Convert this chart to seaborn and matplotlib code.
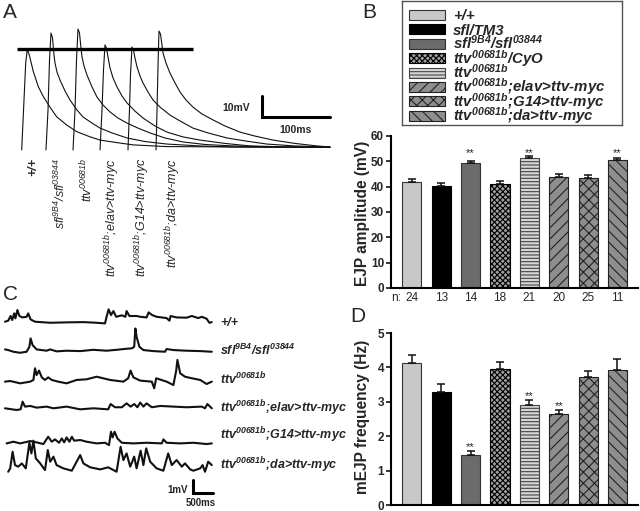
import numpy as np
import pandas as pd
import matplotlib
matplotlib.use("Agg")
import matplotlib.pyplot as plt
import matplotlib.transforms as mtransforms
from matplotlib.patches import Rectangle
import seaborn as sns

sns.set_style("white")
plt.rcParams.update({
    "font.family": ["Liberation Sans", "DejaVu Sans"],
    "mathtext.fontset": "custom",
    "mathtext.rm": "Liberation Sans:italic:bold",
    "mathtext.it": "Liberation Sans:italic:bold",
    "mathtext.bf": "Liberation Sans:italic:bold",
    "mathtext.sf": "Liberation Sans:italic",
    "hatch.linewidth": 0.8,
})

# ---------------- data ----------------
genotype_labels = ["+/+", "sfl/TM3", "sfl$^{9B4}$/sfl$^{03844}$", "ttv$^{00681b}$/CyO",
                   "ttv$^{00681b}$", "ttv$^{00681b}$;elav>ttv-myc",
                   "ttv$^{00681b}$;G14>ttv-myc", "ttv$^{00681b}$;da>ttv-myc"]
ejp_amp = [42.0, 40.4, 49.3, 41.0, 51.3, 44.0, 43.6, 50.6]
ejp_sem = [0.9, 1.0, 0.9, 1.1, 0.8, 0.9, 1.1, 0.9]
ejp_n = [24, 13, 14, 18, 21, 20, 25, 11]
ejp_sig = ["", "", "**", "", "**", "", "", "**"]
mejp_freq = [4.14, 3.29, 1.45, 3.95, 2.90, 2.65, 3.72, 3.93]
mejp_sem = [0.21, 0.24, 0.12, 0.22, 0.14, 0.10, 0.17, 0.31]
mejp_sig = ["", "", "**", "", "**", "**", "", ""]

# Panel A: evoked EJP traces (time ms, voltage mV)
A_labels = ["+/+", "sfl$^{\\mathsf{9B4}}$/sfl$^{\\mathsf{03844}}$", "ttv$^{\\mathsf{00681b}}$",
            "ttv$^{\\mathsf{00681b}}$;elav>ttv-myc", "ttv$^{\\mathsf{00681b}}$;G14>ttv-myc",
            "ttv$^{\\mathsf{00681b}}$;da>ttv-myc"]
A_t1 = [6.9, 10.3, 12.8, 15.1, 18.1, 24, 31.4, 38.7, 48.5, 58.3, 73, 87.8, 107, 122, 146.6, 171, 220, 460]
A_v1 = [-1.4, 22.4, 40, 46.5, 43.8, 35.9, 28.7, 24, 19, 14.4, 10.5, 7.3, 4.9, 3.3, 2.1, 1.0, 0.2, -0.2]
A_t2 = [42.6, 45.6, 47.8, 50, 52.2, 54.4, 55.9, 58.8, 63.2, 70.6, 77.9, 88.2, 97.1, 110.3, 122.1, 139.7, 161.8, 188.2, 220.6, 269.1, 317.6, 460.3]
A_v2 = [-1.4, 17.6, 41.4, 54.3, 51.9, 43.8, 40, 35.7, 31.9, 26.7, 22.4, 17.6, 14.3, 11.4, 9, 6.7, 4.3, 2.6, 1.4, 0.5, 0, -0.2]
A_t3 = [82.4, 85.3, 87.5, 89.7, 91.9, 94.1, 95.6, 98.5, 102.9, 110.3, 117.6, 126.5, 136.8, 148.5, 161.8, 177.9, 195.6, 217.6, 244.1, 276.5, 317.6, 386.8, 460.3]
A_v3 = [-1.4, 17.6, 41.4, 56.2, 54.3, 47.1, 42.9, 38.6, 34.3, 28.6, 23.8, 20, 16.7, 13.8, 11.4, 9, 6.7, 4.3, 2.4, 1.2, 0.5, 0, -0.1]
A_t4 = [122.1, 125, 127.2, 129.4, 131.6, 133.8, 136.8, 141.2, 147.1, 154.4, 161.8, 173.5, 185.3, 202.9, 220.6, 244.1, 269.1, 305.9, 342.6, 401.5, 460.3]
A_v4 = [-1.4, 17.6, 36.7, 48.6, 47.1, 42.9, 37.6, 32.9, 28.6, 24.3, 21, 17.1, 13.8, 10, 7.1, 4.8, 3.3, 1.7, 0.5, 0, -0.1]
A_t5 = [163.2, 165.4, 166.9, 169.1, 171.3, 173.5, 176.5, 180.9, 185.3, 192.6, 200, 210.3, 225, 239.7, 258.8, 280.9, 308.8, 335.3, 367.6, 408.8, 460.3]
A_v5 = [-1.4, 17.6, 34.3, 47.6, 46.2, 42.4, 38.1, 33.8, 30.5, 26.2, 22.4, 19, 15.2, 12.4, 9, 6.7, 4.3, 2.9, 1.4, 0.5, 0]
A_t6 = [204.4, 205.9, 207.4, 208.8, 211, 213.2, 214.7, 219.1, 225, 232.4, 239.7, 248.5, 258.8, 272.1, 288.2, 305.9, 327.9, 350, 376.5, 408.8, 441.2, 460.3]
A_v6 = [-1.4, 17.6, 39, 55.2, 53.8, 48.6, 44.8, 40, 35.2, 30.5, 26.2, 22.4, 19, 15.7, 12.9, 10, 7.1, 5.2, 3.3, 1.7, 0.5, 0]
A_traces = [(A_t1, A_v1), (A_t2, A_v2), (A_t3, A_v3), (A_t4, A_v4), (A_t5, A_v5), (A_t6, A_v6)]

# Panel C: spontaneous mEJP traces (time s, voltage mV)
C_row1 = [(0.00, 0.00), (0.08, 0.08), (0.14, 0.44), (0.18, 0.13), (0.23, 0.64), (0.26, 0.26), (0.31, 0.90),
          (0.36, 0.44), (0.44, 0.33), (0.54, 0.38), (0.58, 0.64), (0.64, 0.18), (0.75, 0.00), (1.13, -0.08),
          (1.54, -0.05), (1.96, -0.03), (2.29, -0.08), (2.50, -0.13), (2.54, 0.38), (2.59, 0.95), (2.65, 0.51),
          (2.71, 0.82), (2.78, 0.38), (2.92, 0.49), (3.01, 0.38), (3.04, 0.82), (3.11, 0.44), (3.29, 0.44),
          (3.38, 0.38), (3.54, 0.33), (3.59, 0.72), (3.68, 0.51), (3.79, 0.38), (4.04, 0.28), (4.11, 0.08),
          (4.14, 0.44), (4.29, 0.33), (4.54, 0.31), (4.67, 0.44), (4.83, 0.28), (4.92, 0.38), (5.04, 0.23),
          (5.11, -0.08), (5.17, -0.03)]
C_row2 = [(0.00, 0.18), (0.08, 0.13), (0.21, 0.00), (0.38, -0.08), (0.54, 0.00), (0.61, 0.38), (0.64, 1.03),
          (0.69, 0.51), (0.79, 0.18), (1.04, 0.08), (1.13, 0.18), (1.29, 0.03), (1.54, 0.08), (1.88, 0.05),
          (2.21, 0.15), (2.54, 0.08), (2.79, 0.15), (3.04, 0.23), (3.17, 0.26), (3.23, 0.38), (3.26, 1.79),
          (3.29, 1.15), (3.36, 0.38), (3.46, 0.13), (3.71, 0.05), (4.00, 0.00), (4.04, 0.21), (4.21, 0.13),
          (4.54, 0.08), (4.88, 0.05), (5.17, 0.00)]
C_row3 = [(0.00, 0.00), (0.13, 0.05), (0.38, -0.13), (0.63, 0.00), (0.71, 0.13), (0.75, 1.03), (0.79, 0.51),
          (0.85, 0.85), (0.92, 0.33), (1.00, 0.13), (1.08, 0.33), (1.17, 0.13), (1.33, 0.00), (1.54, -0.13),
          (1.79, 0.13), (2.04, 0.18), (2.29, 0.38), (2.63, 0.13), (2.96, 0.00), (3.08, 0.26), (3.14, 0.85),
          (3.21, 0.33), (3.38, 0.08), (3.67, 0.00), (3.73, -0.51), (3.78, 0.26), (4.04, 0.00), (4.21, -0.26),
          (4.28, 0.85), (4.31, 1.67), (4.38, 0.64), (4.50, 0.38), (4.67, 0.26), (4.88, 0.13), (5.04, -0.18),
          (5.17, 0.00)]
C_row4 = [(0.00, 0.00), (0.29, -0.13), (0.39, -0.08), (0.44, 0.51), (0.50, 0.13), (0.63, 0.18), (0.79, 0.05),
          (1.04, 0.13), (1.21, 0.00), (1.54, 0.13), (1.88, -0.08), (2.21, 0.00), (2.58, -0.08), (2.64, 0.33),
          (2.75, 0.08), (2.92, 0.08), (3.04, 0.38), (3.14, 0.13), (3.23, 0.33), (3.31, 0.08), (3.38, 0.44),
          (3.46, 0.13), (3.54, 0.38), (3.67, 0.08), (3.88, 0.18), (4.21, 0.13), (4.54, 0.08), (4.92, 0.13),
          (5.00, 0.00), (5.06, 0.33), (5.17, 0.00)]
C_row5 = [(0.04, 0.00), (0.21, 0.13), (0.38, 0.00), (0.63, 0.18), (0.83, 0.05), (0.96, -0.05), (1.08, 0.51),
          (1.17, 0.13), (1.25, 0.31), (1.35, 0.05), (1.42, 0.38), (1.48, 0.08), (1.54, 0.46), (1.61, 0.13),
          (1.67, 0.51), (1.73, 0.21), (1.88, 0.26), (2.04, 0.13), (2.29, 0.00), (2.50, 0.05), (2.60, -0.13),
          (2.65, 0.90), (2.69, 0.46), (2.74, 0.90), (2.81, 0.38), (2.92, 0.05), (3.21, 0.00), (3.54, 0.05),
          (3.92, 0.00), (3.96, 0.31), (4.04, 0.05), (4.38, 0.00), (4.71, 0.05), (5.04, -0.05), (5.17, 0.00)]
C_row6 = [(0.08, -0.13), (0.13, 0.13), (0.19, 1.41), (0.25, 0.38), (0.33, 0.26), (0.42, 0.51), (0.52, 0.13),
          (0.61, 2.10), (0.66, 1.28), (0.71, 2.26), (0.77, 0.90), (0.88, 0.51), (1.00, 0.00), (1.07, 1.54),
          (1.13, 0.64), (1.21, 1.03), (1.29, 0.38), (1.46, 0.13), (1.67, -0.05), (1.88, 1.15), (1.96, 0.51),
          (2.13, 0.21), (2.38, 0.05), (2.58, 0.21), (2.79, -0.13), (2.89, 1.79), (2.96, 0.77), (3.04, 1.28),
          (3.13, 0.26), (3.23, 1.03), (3.29, 0.13), (3.39, 1.49), (3.46, 0.38), (3.53, 1.67), (3.63, 0.64),
          (3.79, 0.13), (3.96, -0.05), (4.08, 1.28), (4.17, 0.38), (4.29, 0.77), (4.42, 0.26), (4.50, 0.51),
          (4.63, 0.05), (4.71, -0.05), (4.88, 0.13), (4.94, 0.38), (5.00, -0.13), (5.08, 0.64), (5.17, 0.38)]
C_rows = [C_row1, C_row2, C_row3, C_row4, C_row5, C_row6]
C_label_idx = [0, 2, 4, 5, 6, 7]

# ---------------- styles / layout ----------------
bar_face = ["#c8c8c8", "#000000", "#6b6b6b", "#a0a0a0", "#d6d6d6", "#8e8e8e", "#8e8e8e", "#8e8e8e"]
bar_edge = ["#333333", "#000000", "#333333", "#000000", "#444444", "#222222", "#222222", "#222222"]
bar_hatch = [None, None, None, "xxxxxx", "-----", "///", "xxx", "\\\\\\"]
C_offsets = [14.56, 12.25, 9.95, 7.90, 5.20, 3.15]
C_label_y = [14.56, 12.38, 10.08, 7.92, 5.85, 3.54]
A_label_x = [24, 64.3, 103.4, 139.3, 183.4, 229.4]

W, H = 640, 511
fig = plt.figure(figsize=(6.4, 5.11), dpi=100)


def px_axes(x0, y0, w, h):
    return fig.add_axes([x0 / W, 1 - (y0 + h) / H, w / W, h / H])


# ---------------- Panel A ----------------
axA = px_axes(0, 0, 330, 160)
axA.set_xlim(-25, 460.3)
axA.set_ylim(-6.19, 70)
axA.axis("off")
for t, v in A_traces:
    axA.plot(t, v, color="#111111", lw=0.8, solid_joinstyle="round", clip_on=False)
wt_peak = max(A_v1)
axA.hlines(wt_peak, 0, 259, color="black", lw=2.4)
axA.plot([360, 360, 460], [24.1, 14.1, 14.1], color="black", lw=2.2, clip_on=False,
         solid_joinstyle="miter")
axA.text(323, 18.6, "10mV", ha="center", va="center", fontsize=7.5, fontweight="bold")
axA.text(409, 8.1, "100ms", ha="center", va="center", fontsize=7.5, fontweight="bold")
for i, lab in enumerate(A_labels):
    axA.text(A_label_x[i], -5.24, lab, rotation=90, ha="center", va="top", fontsize=9,
             fontstyle="italic", fontweight="bold" if i == 0 else "normal", clip_on=False)

# ---------------- Panel C ----------------
axC = px_axes(0, 291, 330, 220)
axC.set_xlim(-0.125, 8.125)
axC.set_ylim(0, 220 / 13)
axC.axis("off")
for i, row in enumerate(C_rows):
    t = [p[0] for p in row]
    v = [p[1] + C_offsets[i] for p in row]
    axC.plot(t, v, color="#111111", lw=1.5, solid_joinstyle="round")
    axC.text(5.375, C_label_y[i] - 0.35, genotype_labels[C_label_idx[i]], ha="left", va="baseline",
             fontsize=9, fontweight="bold", fontstyle="italic")
axC.plot([4.7, 4.7, 5.2], [2.385, 1.385, 1.385], color="black", lw=2.2, solid_joinstyle="miter")
axC.text(4.32, 1.65, "1mV", ha="center", va="center", fontsize=7, fontweight="bold")
axC.text(4.9, 0.65, "500ms", ha="center", va="center", fontsize=7, fontweight="bold")


# ---------------- Bar panels ----------------
def bar_panel(ax, values, errs, ylim, yticks, ylabel, label_y):
    df = pd.DataFrame({"genotype": genotype_labels, "value": values})
    sns.barplot(data=df, x="genotype", y="value", hue="genotype", palette=bar_face, legend=False,
                width=0.65, saturation=1, errorbar=None, ax=ax)
    bars = sorted([p for p in ax.patches if isinstance(p, Rectangle)], key=lambda p: p.get_x())
    for i, p in enumerate(bars):
        p.set_facecolor(bar_face[i])
        p.set_edgecolor(bar_edge[i])
        p.set_linewidth(0.8)
        if bar_hatch[i]:
            p.set_hatch(bar_hatch[i])
    ax.errorbar(np.arange(len(values)), values, yerr=[np.zeros(len(values)), errs], fmt="none",
                ecolor="#111111", elinewidth=1.1, capsize=2.6, capthick=1.1, zorder=4)
    ax.set_xlim(-0.71, 7.7)
    ax.set_ylim(*ylim)
    ax.set_yticks(yticks)
    ax.set_xticks([])
    ax.set_xlabel("")
    ax.set_ylabel(ylabel, fontsize=11.2, fontweight="bold")
    ax.yaxis.set_label_coords(-0.087, label_y)
    sns.despine(ax=ax)
    for s in ["left", "bottom"]:
        ax.spines[s].set_linewidth(1.5)
        ax.spines[s].set_color("black")
    ax.tick_params(axis="y", length=3.5, width=1.3, pad=1.5, labelsize=8.5, direction="out", left=True)
    for lab in ax.get_yticklabels():
        lab.set_fontweight("bold")
    ax.set_facecolor("white")


axB = px_axes(391, 136, 247, 152)
bar_panel(axB, ejp_amp, ejp_sem, (0, 60), range(0, 61, 10), "EJP amplitude (mV)", 0.49)
transB = mtransforms.blended_transform_factory(axB.transData, axB.transAxes)
axB.text(-0.38, -0.066, "n:", transform=transB, ha="right", va="center", fontsize=8.5)
for i, n in enumerate(ejp_n):
    axB.text(i, -0.066, str(n), transform=transB, ha="center", va="center", fontsize=8.5)
star_b = max(a + s for a, s in zip(ejp_amp, ejp_sem)) + 0.1
for i, s in enumerate(ejp_sig):
    if s:
        axB.text(i, star_b, s, ha="center", va="baseline", fontsize=8, color="#222222")

axD = px_axes(391, 333, 247, 172)
bar_panel(axD, mejp_freq, mejp_sem, (0, 5), range(0, 6), "mEJP frequency (Hz)", 0.51)
for i, s in enumerate(mejp_sig):
    if s:
        axD.text(i, mejp_freq[i] + mejp_sem[i] + 0.03, s, ha="center", va="baseline", fontsize=8,
                 color="#222222")

# ---------------- Legend (panel B) ----------------
axL = px_axes(402, 1, 220, 124)
axL.set_xlim(0, 220)
axL.set_ylim(124, 0)
axL.set_xticks([])
axL.set_yticks([])
for s in axL.spines.values():
    s.set_visible(True)
    s.set_color("#555555")
    s.set_linewidth(1.0)
for i, lab in enumerate(genotype_labels):
    yc = 14 + 14.4 * i
    axL.add_patch(Rectangle((7, yc - 5), 36, 10, facecolor=bar_face[i], edgecolor=bar_edge[i],
                            hatch=bar_hatch[i], linewidth=0.8))
    axL.text(51, yc + 5.2, lab, ha="left", va="baseline", fontsize=10.8, fontweight="bold",
             fontstyle="italic")

# ---------------- Panel letters ----------------
for letter, (x, y) in zip("ABCD", [(3, 3), (362, 3), (3, 285), (350, 307)]):
    fig.text(x / W, 1 - y / H, letter, ha="left", va="top", fontsize=15)

fig.savefig("out.png", dpi=100)
